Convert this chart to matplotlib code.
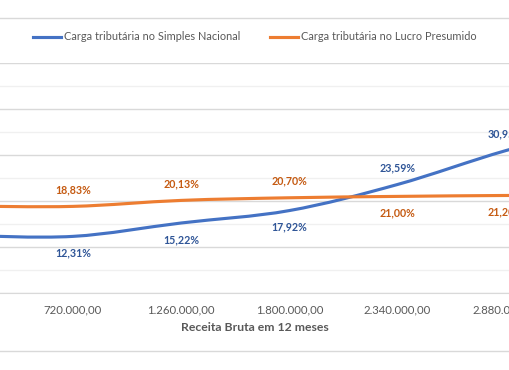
import matplotlib
matplotlib.use("Agg")
import matplotlib.pyplot as plt
from matplotlib.path import Path
from matplotlib.patches import PathPatch
from matplotlib.lines import Line2D
from matplotlib.ticker import MultipleLocator

plt.rcParams["font.family"] = ["Lato", "DejaVu Sans"]

# revenue bands (first and last sit outside the visible crop)
receita = ["180.000,00", "720.000,00", "1.260.000,00", "1.800.000,00",
           "2.340.000,00", "2.880.000,00", "3.420.000,00"]
simples = [12.5, 12.31, 15.22, 17.92, 23.59, 30.95, 37.0]
presumido = [18.9, 18.83, 20.13, 20.70, 21.00, 21.20, 21.3]

# which side of the point each data label goes (+1 above, -1 below)
lado_simples = [-1, -1, -1, -1, 1, 1, 1]
lado_presumido = [1, 1, 1, 1, -1, -1, -1]

BLUE = "#4472C4"
ORANGE = "#ED7D31"
BLUE_TXT = "#2F5597"
ORANGE_TXT = "#C55A11"
GRID = "#D9D9D9"
GRID_MINOR = "#F0F0F0"
TXT = "#595959"


def smooth_path(ys):
    # Excel-style smoothed line: Catmull-Rom segments as cubic Beziers
    pts = list(enumerate(ys))
    n = len(pts)
    verts = [pts[0]]
    codes = [Path.MOVETO]
    for i in range(n - 1):
        p0 = pts[max(i - 1, 0)]
        p1 = pts[i]
        p2 = pts[i + 1]
        p3 = pts[min(i + 2, n - 1)]
        c1 = (p1[0] + (p2[0] - p0[0]) / 6, p1[1] + (p2[1] - p0[1]) / 6)
        c2 = (p2[0] - (p3[0] - p1[0]) / 6, p2[1] - (p3[1] - p1[1]) / 6)
        verts += [c1, c2, p2]
        codes += [Path.CURVE4] * 3
    return Path(verts, codes)


fig = plt.figure(figsize=(5.1, 3.7), dpi=100)
ax = fig.add_axes([0, 1 - 293 / 370, 1, 230 / 370])

ax.add_patch(PathPatch(smooth_path(simples), facecolor="none", edgecolor=BLUE,
                       lw=2.25, capstyle="round", zorder=3))
ax.add_patch(PathPatch(smooth_path(presumido), facecolor="none", edgecolor=ORANGE,
                       lw=2.25, capstyle="round", zorder=3))

ax.set_xticks(range(len(receita)))
ax.set_xticklabels(receita)
ax.set_xlim(0.325, 5.04)
ax.set_ylim(0, 50)

for i, v in enumerate(simples):
    ax.annotate(f"{v:.2f}%".replace(".", ","), (i, v), xytext=(0, 12 * lado_simples[i]),
                textcoords="offset points", ha="center", va="center",
                fontsize=7.7, fontweight="bold", color=BLUE_TXT, zorder=4)
for i, v in enumerate(presumido):
    ax.annotate(f"{v:.2f}%".replace(".", ","), (i, v), xytext=(0, 12 * lado_presumido[i]),
                textcoords="offset points", ha="center", va="center",
                fontsize=7.7, fontweight="bold", color=ORANGE_TXT, zorder=4)

ax.yaxis.set_major_locator(MultipleLocator(10))
ax.yaxis.set_minor_locator(MultipleLocator(5))
ax.grid(axis="y", which="major", color=GRID, lw=1)
ax.grid(axis="y", which="minor", color=GRID_MINOR, lw=1)
ax.tick_params(axis="x", length=0, pad=8, labelsize=8.2, labelcolor=TXT)
ax.tick_params(axis="y", which="both", left=False, labelleft=False)
for s in ["left", "right", "top"]:
    ax.spines[s].set_visible(False)
ax.spines["bottom"].set_color(GRID)
ax.set_xlabel("Receita Bruta em 12 meses", fontsize=8.8, fontweight="bold",
              color=TXT, labelpad=5)

handles = [Line2D([], [], color=BLUE, lw=2.25),
           Line2D([], [], color=ORANGE, lw=2.25)]
fig.legend(handles, ["Carga tributária no Simples Nacional",
                     "Carga tributária no Lucro Presumido"],
           loc="center", bbox_to_anchor=(0.5, 1 - 37 / 370), ncol=2, frameon=False,
           fontsize=7.9, labelcolor=TXT, handlelength=2.5, handletextpad=0.3,
           columnspacing=2.7)

# outer chart border lines visible in the crop
fig.add_artist(Line2D([0, 1], [1 - 18 / 370] * 2, color=GRID, lw=1))
fig.add_artist(Line2D([0, 1], [1 - 351 / 370] * 2, color=GRID, lw=1))

fig.savefig("out.png", dpi=100)
